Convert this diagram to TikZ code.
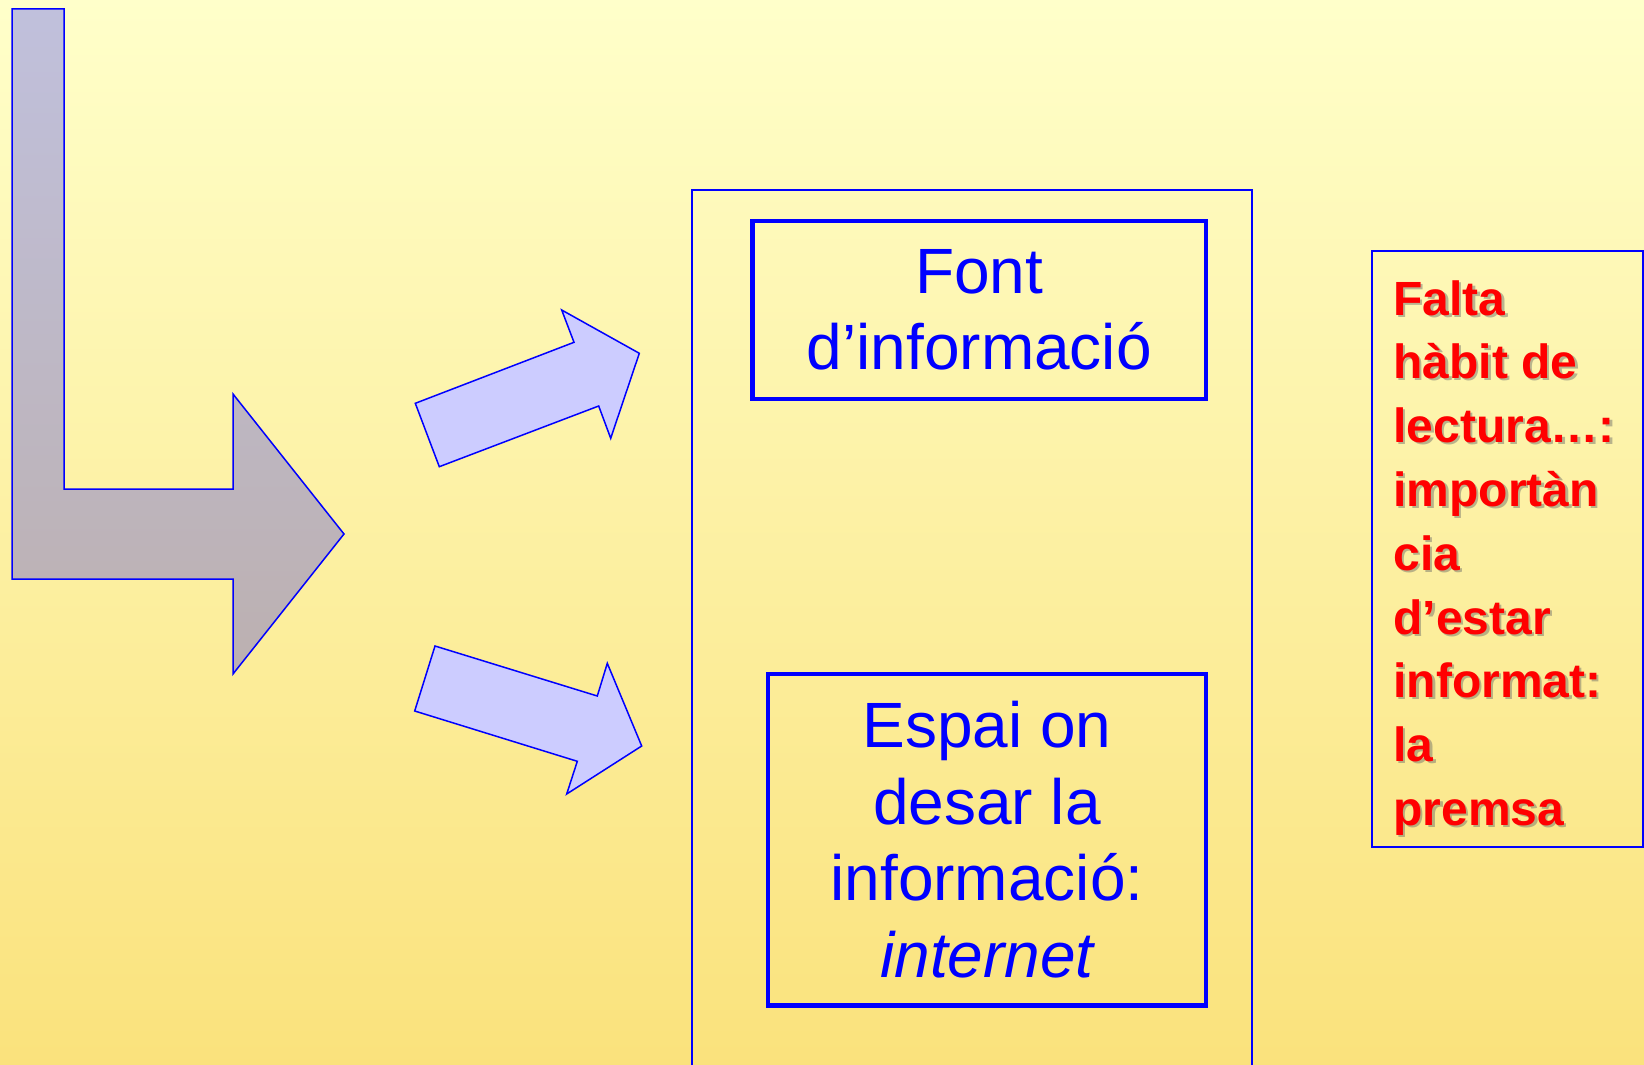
\documentclass[tikz,border=0pt]{standalone}
\usepackage{fontspec}
\setmainfont{Liberation Sans}
\definecolor{bgtop}{RGB}{255,255,202}
\definecolor{bgbot}{RGB}{250,226,124}
\definecolor{arrtop}{RGB}{192,192,220}
\definecolor{arrbot}{RGB}{188,176,176}
\definecolor{arrfill}{RGB}{204,204,255}
\definecolor{pureblue}{RGB}{0,0,255}
\definecolor{purered}{RGB}{255,0,0}
\tikzset{
  outline/.style={draw=pureblue, line width=0.75pt, line join=miter},
  smallarrow/.style={outline, fill=arrfill},
  thinframe/.style={draw=pureblue, line width=0.8pt},
  bluebox/.style={draw=pureblue, line width=2.2pt, inner sep=0pt, align=center,
    text=pureblue, font=\fontsize{32pt}{38.35pt}\selectfont},
  notetext/.style={anchor=base west, inner sep=0pt, text=purered},
  noteshadow/.style={anchor=base west, inner sep=0pt, text=black!60, opacity=0.45},
}
\newcommand{\notebody}{\parbox[t]{130pt}{\raggedright\fontsize{24pt}{31.9pt}\selectfont\bfseries
Falta\\ hàbit de\\ lectura…:\\ importàn\\ cia\\ d’estar\\ informat:\\ la\\ premsa}}
\begin{document}
\begin{tikzpicture}[x=0.5pt, y=-0.5pt]
  \useasboundingbox (0,0) rectangle (1644,1065);
  \clip (0,0) rectangle (1644,1065);
  % background
  \shade[top color=bgtop, bottom color=bgbot] (0,0) rectangle (1644,1065);
  % big bent arrow
  \shade[top color=arrtop, bottom color=arrbot]
    (12,9) -- (64,9) -- (64,489) -- (233,489) -- (233,394) -- (344,534)
    -- (233,674) -- (233,579) -- (12,579) -- cycle;
  \draw[outline]
    (12,9) -- (64,9) -- (64,489) -- (233,489) -- (233,394) -- (344,534)
    -- (233,674) -- (233,579) -- (12,579) -- cycle;
  % upper small arrow
  \draw[smallarrow]
    (415.3,403.3) -- (574,342.3) -- (561.7,310) -- (639.3,353.3)
    -- (610.7,438.3) -- (598.7,406) -- (439.3,466.7) -- cycle;
  % lower small arrow
  \draw[smallarrow]
    (435,646) -- (597.3,696) -- (607.3,663.3) -- (641.7,746)
    -- (566.7,794) -- (577.3,761.3) -- (414.7,711) -- cycle;
  % tall frame
  \draw[thinframe] (691.8,190) rectangle (1252,1080);
  % boxes
  \node[bluebox, minimum width=226.75pt, minimum height=89pt] (font) at (979.25,309.7)
    {Font\\ d’informació};
  \node[bluebox, minimum width=219pt, minimum height=165.65pt] (espai) at (987,839.65)
    {Espai on\\ desar la\\ informació:\\ \itshape internet};
  % right note
  \draw[thinframe] (1372,251) rectangle (1643,847);
  \node[noteshadow] (noteshadow) at (1395.5,317) {\notebody};
  \node[notetext] (note) at (1393,315) {\notebody};
\end{tikzpicture}
\end{document}
